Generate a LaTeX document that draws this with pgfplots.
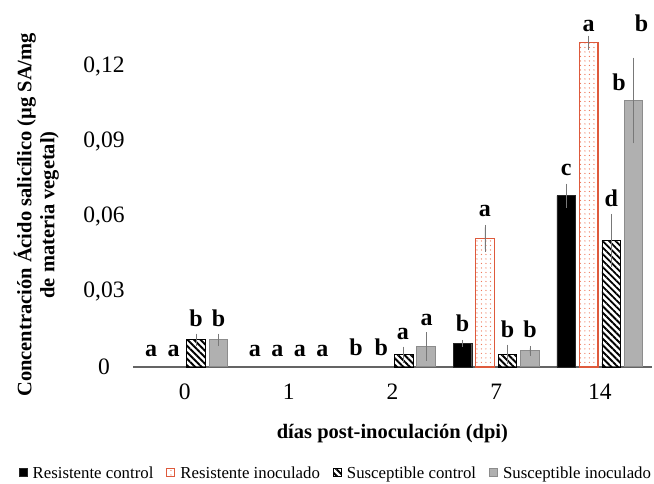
\documentclass[border=0pt]{standalone}
\usepackage{pgfplots}
\pgfplotsset{compat=1.18}
\usepackage{fontspec}
\setmainfont{Liberation Serif}
\usetikzlibrary{patterns.meta}

\definecolor{orng}{RGB}{222,90,60}
\definecolor{dotc}{RGB}{238,120,90}
\definecolor{grayfill}{RGB}{176,176,176}
\definecolor{grayedge}{RGB}{140,140,140}
\definecolor{axisgray}{RGB}{100,100,100}
\definecolor{errgray}{RGB}{120,120,120}

\begin{document}
\begin{tikzpicture}
\begin{axis}[
  name=ax, x=103.8bp, y=2508bp,
  xmin=-0.5, xmax=4.5, ymin=0, ymax=0.14, clip=false,
  axis lines*=left,
  y axis line style={draw=none},
  x axis line style={draw=axisgray, line width=1.6bp, -},
  xtick={0,1,2,3,4}, xticklabels={0,1,2,7,14},
  ytick={0,0.03,0.06,0.09,0.12},
  yticklabels={0,{0,03},{0,06},{0,09},{0,12}},
  major tick length=0pt, tick style={draw=none},
  ticklabel style={font=\fontsize{23.5bp}{27bp}\selectfont},
  xticklabel style={anchor=base, yshift=-33bp},
  yticklabel style={anchor=center, xshift=-29bp},
  xlabel={días post-inoculación (dpi)},
  xlabel style={font=\bfseries\fontsize{20.5bp}{24bp}\selectfont,
    at={(axis description cs:0.5,0)}, anchor=base, yshift=-72bp},
  ylabel={Concentración Ácido salicílico (µg SA/mg\\de materia vegetal)},
  ylabel style={font=\bfseries\fontsize{20.5bp}{23bp}\selectfont, align=center,
    at={(axis description cs:-0.186,0.433)}, anchor=center},
  legend style={at={(axis description cs:0.389,-0.302)}, anchor=center,
    draw=none, fill=none, legend columns=4,
    font=\fontsize{16.8bp}{20bp}\selectfont, nodes={inner sep=0pt},
    /tikz/every odd column/.append style={column sep=5bp},
    /tikz/every even column/.append style={column sep=13bp}},
  legend image code/.code={\draw[#1,/tikz/.cd,line width=1bp] (0bp,-4bp) rectangle (8bp,4bp);},
  error bars/error bar style={errgray, line width=0.7bp},
  error bars/error mark options={errgray, mark size=2.5bp, line width=0.7bp},
]
% Resistente control
\addplot[ybar, bar width=18.5bp, bar shift=0bp, fill=black, draw=black!85,
  error bars/.cd, y dir=both, y explicit]
  table[x=x, y=y, y error=e] {
x y e
2.6748 0.0094 0.0004
3.6748 0.0683 0.0038
};
% Resistente inoculado
\addplot[ybar, bar width=18.5bp, bar shift=0bp, draw=orng, line width=1.3bp,
  pattern color=dotc, pattern={Dots[distance=4.5bp, radius=0.65bp]},
  error bars/.cd, y dir=both, y explicit]
  table[x=x, y=y, y error=e] {
x y e
2.8916 0.0513 0.0044
3.8916 0.1293 0.0018
};
% Susceptible control
\addplot[ybar, bar width=18.5bp, bar shift=0bp, draw=black, line width=0.8bp,
  pattern color=black, pattern={Lines[angle=-45, distance=4.6bp, line width=1.9bp]},
  error bars/.cd, y dir=both, y explicit]
  table[x=x, y=y, y error=e] {
x y e
0.1084 0.0108 0.0015
2.1084 0.0048 0.0023
3.1084 0.0051 0.0028
4.1084 0.0504 0.0096
};
% Susceptible inoculado
\addplot[ybar, bar width=18.5bp, bar shift=0bp, fill=grayfill, draw=grayedge, line width=1bp,
  error bars/.cd, y dir=both, y explicit]
  table[x=x, y=y, y error=e] {
x y e
0.3252 0.0108 0.0015
2.3252 0.0081 0.0047
3.3252 0.0064 0.0010
4.3252 0.1063 0.0161
};
% letters
\addplot[forget plot, draw=none, mark=none, nodes near coords, point meta=explicit symbolic,
  every node near coord/.append style={anchor=base, inner sep=0pt, text=black,
    font=\bfseries\fontsize{24bp}{28bp}\selectfont}]
  table[x=x, y=y, meta=l] {
x y l
-0.3252 0.0040 a
-0.1084 0.0040 a
0.1084 0.0163 b
0.3252 0.0163 b
0.6748 0.0040 a
0.8916 0.0040 a
1.1084 0.0040 a
1.3252 0.0040 a
1.6500 0.0044 b
1.8916 0.0044 b
2.1000 0.0108 a
2.3300 0.0167 a
2.6748 0.0141 b
2.8916 0.0598 a
3.1084 0.0116 b
3.3252 0.0116 b
3.6748 0.0762 c
3.8916 0.1336 a
4.1084 0.0639 d
4.1830 0.1104 b
4.4000 0.1336 b
};
\legend{Resistente control, Resistente inoculado, Susceptible control, Susceptible inoculado}
\end{axis}
\path[use as bounding box] ([xshift=-133bp,yshift=-117bp]ax.south west) rectangle ([xshift=521bp,yshift=367bp]ax.south west);
\end{tikzpicture}
\end{document}
